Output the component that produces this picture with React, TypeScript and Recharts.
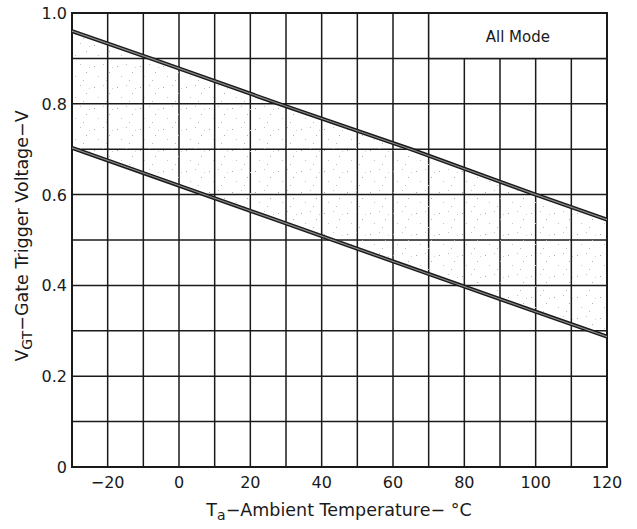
import React from 'react';
import { ComposedChart, Line, Area, XAxis, YAxis, CartesianGrid, ReferenceArea } from 'recharts';

// Ambient temperature (°C) sample points
const temps = [-30, -8, 28, 65, 100, 120];
// Upper boundary of gate trigger voltage (V)
const upperVgt = [0.96, 0.9, 0.8, 0.7, 0.6, 0.545];
// Lower boundary of gate trigger voltage (V)
const lowerVgt = [0.703, 0.642, 0.542, 0.439, 0.342, 0.287];

const xGridTicks = [-30, -20, -10, 0, 10, 20, 30, 40, 50, 60, 70, 80, 90, 100, 110, 120];
const xLabelTicks = [-20, 0, 20, 40, 60, 80, 100, 120];
const yGridTicks = [0, 0.1, 0.2, 0.3, 0.4, 0.5, 0.6, 0.7, 0.8, 0.9, 1.0];
const yLabelTicks = [0, 0.2, 0.4, 0.6, 0.8, 1.0];
const yLabelText = ['0', '0.2', '0.4', '0.6', '0.8', '1.0'];

const legendText = 'All Mode';
const legendRange = { x1: 70, x2: 120, y1: 0.9, y2: 1.0 };

const data = temps.map((t, i) => ({
  t,
  upper: upperVgt[i],
  lower: lowerVgt[i],
  band: [lowerVgt[i], upperVgt[i]],
}));

const FONT = '"DejaVu Sans", Arial, sans-serif';
const INK = '#1a1a1a';

const XTick = (props: any) => {
  const v = props.payload?.value;
  if (!xLabelTicks.includes(v)) return null;
  const label = v < 0 ? '\u2212' + Math.abs(v) : String(v);
  return (
    <text x={props.x} y={488} textAnchor="middle" fontFamily={FONT} fontSize={16} fill={INK}>
      {label}
    </text>
  );
};

const YTick = (props: any) => {
  const v = props.payload?.value;
  const idx = yLabelTicks.findIndex((y) => Math.abs(y - v) < 1e-6);
  if (idx < 0) return null;
  return (
    <text x={67} y={props.y} dy={6} textAnchor="end" fontFamily={FONT} fontSize={16} fill={INK}>
      {yLabelText[idx]}
    </text>
  );
};

const LegendLabel = (props: any) => {
  const vb = props.viewBox || {};
  return (
    <text
      x={vb.x + vb.width / 2}
      y={vb.y + vb.height / 2 + 6}
      textAnchor="middle"
      fontFamily={FONT}
      fontSize={15}
      fill={INK}
    >
      {legendText}
    </text>
  );
};

export default function App() {
  return (
    <div style={{ position: 'absolute', left: 0, top: 0, width: 637, height: 529, background: '#fff' }}>
      <ComposedChart
        width={637}
        height={529}
        data={data}
        margin={{ top: 13, right: 30, bottom: 0, left: 0 }}
      >
        <defs>
          <pattern id="stipple" x="0" y="0" width="23" height="21" patternUnits="userSpaceOnUse">
            <rect x="2" y="3" width="1" height="1" fill="#a8a8a8" />
            <rect x="11" y="1" width="1" height="1" fill="#c2c2c2" />
            <rect x="17" y="9" width="1" height="1" fill="#b0b0b0" />
            <rect x="6" y="13" width="1" height="1" fill="#c6c6c6" />
            <rect x="14" y="17" width="1" height="1" fill="#b8b8b8" />
            <rect x="20" y="4" width="1" height="1" fill="#cfcfcf" />
          </pattern>
        </defs>
        <CartesianGrid stroke={INK} strokeWidth={1.5} />
        <XAxis
          type="number"
          dataKey="t"
          domain={[-30, 120]}
          ticks={xGridTicks}
          interval={0}
          tickLine={false}
          axisLine={false}
          tick={<XTick />}
          height={62}
          allowDataOverflow
        />
        <YAxis
          type="number"
          domain={[0, 1]}
          ticks={yGridTicks}
          interval={0}
          tickLine={false}
          axisLine={false}
          tick={<YTick />}
          width={72}
          allowDataOverflow
        />
        <Area
          type="linear"
          dataKey="band"
          stroke="none"
          fill="url(#stipple)"
          fillOpacity={1}
          isAnimationActive={false}
          activeDot={false}
        />
        <ReferenceArea
          x1={legendRange.x1}
          x2={legendRange.x2}
          y1={legendRange.y1}
          y2={legendRange.y2}
          fill="#ffffff"
          fillOpacity={1}
          stroke={INK}
          strokeWidth={1.5}
          label={<LegendLabel />}
        />
        <Line type="linear" dataKey="upper" stroke={INK} strokeWidth={4} dot={false} activeDot={false} isAnimationActive={false} />
        <Line type="linear" dataKey="upper" stroke="#8a8a8a" strokeWidth={1.2} dot={false} activeDot={false} isAnimationActive={false} />
        <Line type="linear" dataKey="lower" stroke={INK} strokeWidth={4} dot={false} activeDot={false} isAnimationActive={false} />
        <Line type="linear" dataKey="lower" stroke="#8a8a8a" strokeWidth={1.2} dot={false} activeDot={false} isAnimationActive={false} />
        <ReferenceArea x1={-30} x2={120} y1={0} y2={1} fill="none" stroke={INK} strokeWidth={2} />
        <text
          transform="translate(28, 236) rotate(-90)"
          textAnchor="middle"
          fontFamily={FONT}
          fontSize={17.5}
          fill={INK}
        >
          V<tspan fontSize={14} dy={4}>GT</tspan>
          <tspan dy={-4}>{'\u2212Gate Trigger Voltage\u2212V'}</tspan>
        </text>
        <text x={339} y={516} textAnchor="middle" fontFamily={FONT} fontSize={17.5} fill={INK}>
          T<tspan fontSize={14} dy={4}>a</tspan>
          <tspan dy={-4}>{'\u2212Ambient Temperature\u2212 \u00B0C'}</tspan>
        </text>
      </ComposedChart>
    </div>
  );
}
